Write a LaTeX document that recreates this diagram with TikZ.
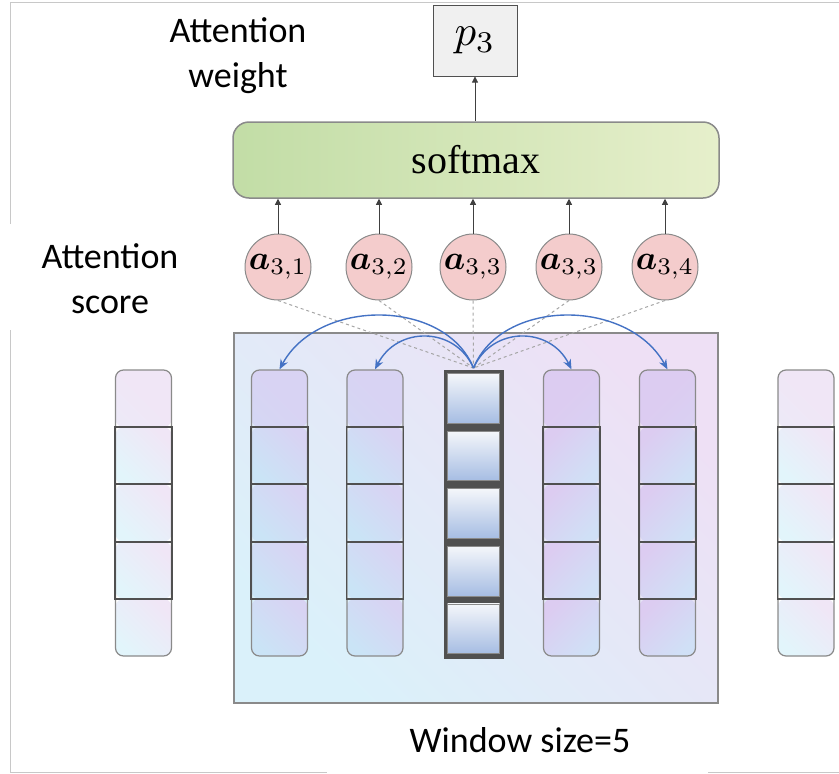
\documentclass[tikz,border=0pt]{standalone}
\usepackage{fontspec}
\usepackage{graphicx}
\usepackage{bm}
\usetikzlibrary{calc,arrows.meta}
\newfontfamily\lblfont{Carlito}
\newfontfamily\serfont{Liberation Serif}
\definecolor{frameC}{HTML}{C8C8C8}
\definecolor{softL}{HTML}{C2DDA6}
\definecolor{softR}{HTML}{E6EFCB}
\definecolor{circF}{HTML}{F4CCCC}
\definecolor{edgeC}{HTML}{8A8A8A}
\definecolor{darkE}{HTML}{505050}
\definecolor{pbox}{HTML}{F0F0F0}
\definecolor{winC}{HTML}{DAF1FA}
\definecolor{winP}{HTML}{EEE0F5}
\definecolor{colC}{HTML}{CAE4F6}
\definecolor{colP}{HTML}{D8D3F3}
\definecolor{colC2}{HTML}{D0E0F6}
\definecolor{colP2}{HTML}{DCCCF1}
\definecolor{outC}{HTML}{E2F5FB}
\definecolor{outP}{HTML}{F0E6F6}
\definecolor{cellT}{HTML}{F4F6FA}
\definecolor{cellB}{HTML}{A6BDE3}
\definecolor{arcB}{HTML}{4472C4}
\begin{document}
\begin{tikzpicture}[x=1pt,y=-1pt,
  lbl/.style={font=\lblfont\fontsize{36}{45}\selectfont, align=center, inner sep=0pt},
  softbox/.style={draw=edgeC, line width=1.5pt, rounded corners=16pt, left color=softL, right color=softR,
    minimum width=486pt, minimum height=76pt, inner sep=0pt},
  pnode/.style={draw=darkE, line width=1pt, fill=pbox, minimum width=84pt, minimum height=71pt, inner sep=0pt},
  score/.style={circle, draw=edgeC, line width=1pt, fill=circF, minimum size=66pt, inner sep=0pt},
  winbox/.style={draw=edgeC, line width=1.5pt, top color=winP, bottom color=winC, shading angle=-45,
    minimum width=484pt, minimum height=370pt, inner sep=0pt},
  colbox/.style n args={3}{draw=edgeC, line width=1.2pt, rounded corners=8pt, minimum width=56pt,
    minimum height=286pt, inner sep=0pt,
    path picture={
      \foreach \k in {0,1,2,3,4}{
        \shade[top color=#1, bottom color=#2, shading angle=#3]
          ($(path picture bounding box.north west)+(0,57.2*\k)$) rectangle
          ($(path picture bounding box.north east)+(0,57.2*\k+57.2)$);
      }
    }},
  midcol/.style={draw=darkE, fill=darkE, line width=1pt, minimum width=59pt, minimum height=288pt, inner sep=0pt},
  cellbox/.style={draw=edgeC, line width=0.6pt, top color=cellT, bottom color=cellB},
  upar/.style={draw=black!75, line width=0.8pt, -{Triangle[length=6pt,width=6pt]}},
  dashlink/.style={draw=black!35, line width=1pt, dashed},
  arc/.style={draw=arcB, line width=1.4pt, -{Stealth[length=10pt,width=8pt]}}
]
\useasboundingbox (0,0) rectangle (839,774);
% screenshot frame lines
\draw[frameC, line width=1pt] (10,2) -- (839,2);
\draw[frameC, line width=1pt] (10,2) -- (10,224);
\draw[frameC, line width=1pt] (10,330) -- (10,772) -- (327,772);
\draw[frameC, line width=1pt] (708,772) -- (839,772);

% labels
\node[lbl] (lw) at (238,56) {Attention\\weight};
\node[lbl] (ls) at (110,279) {Attention\\score};
\node[lbl] (lwin) at (520,740) {Window size=5};

% window
\node[winbox] (win) at (476,518) {};

% columns
\node[colbox={outP}{outC}{-45}] (o1) at (143.5,513) {};
\node[colbox={colP}{colC}{-45}] (c1) at (279.5,513) {};
\node[colbox={colP}{colC}{-45}] (c2) at (375,513) {};
\node[colbox={colP2}{colC2}{45}] (c4) at (571.5,513) {};
\node[colbox={colP2}{colC2}{45}] (c5) at (667.5,513) {};
\node[colbox={outP}{outC}{-45}] (o2) at (806,513) {};
\foreach \c in {o1,c1,c2,c4,c5,o2}{
  \draw[darkE, line width=1.6pt] ($(\c.north west)!0.2!(\c.south west)$) rectangle ($(\c.north east)!0.8!(\c.south east)$);
  \draw[darkE, line width=1.6pt] ($(\c.north west)!0.4!(\c.south west)$) -- ($(\c.north east)!0.4!(\c.south east)$);
  \draw[darkE, line width=1.6pt] ($(\c.north west)!0.6!(\c.south west)$) -- ($(\c.north east)!0.6!(\c.south east)$);
}
% centre column
\node[midcol] (c3) at (473.5,514) {};
\foreach \k in {0,1,2,3,4}{
  \path[cellbox] ($(c3.north west)+(4,4+57.6*\k)$) rectangle ($(c3.north east)+(-4,57.6*\k+53.6)$);
}

% scores
\node[score] (a1) at (278,267) {\scalebox{3.4}{$\bm{a}_{3,1}$}};
\node[score] (a2) at (379,267) {\scalebox{3.4}{$\bm{a}_{3,2}$}};
\node[score] (a3) at (473,267) {\scalebox{3.4}{$\bm{a}_{3,3}$}};
\node[score] (a4) at (569,267) {\scalebox{3.4}{$\bm{a}_{3,3}$}};
\node[score] (a5) at (665,267) {\scalebox{3.4}{$\bm{a}_{3,4}$}};

% softmax and output
\node[softbox] (soft) at (476,160) {\serfont\fontsize{40}{48}\selectfont softmax};
\node[pnode] (p3) at (475,40.5) {\scalebox{4.3}{$p_3$}};
\draw[upar] (soft.north -| p3.south) -- (p3.south);
\foreach \a in {a1,a2,a3,a4,a5}{
  \draw[upar] (\a.north) -- (\a.north |- soft.south);
}

% dashed links
\coordinate (ctop) at (473.5,368);
\foreach \a in {a1,a2,a3,a4,a5}{
  \draw[dashlink] (\a.south) -- (ctop);
}

% blue arcs
\draw[arc] (ctop) .. controls (445,298) and (318,298) .. (c1.north);
\draw[arc] (ctop) .. controls (455,326) and (397,326) .. (c2.north);
\draw[arc] (ctop) .. controls (492,326) and (550,326) .. (c4.north);
\draw[arc] (ctop) .. controls (502,298) and (628,298) .. (c5.north);
\end{tikzpicture}
\end{document}
